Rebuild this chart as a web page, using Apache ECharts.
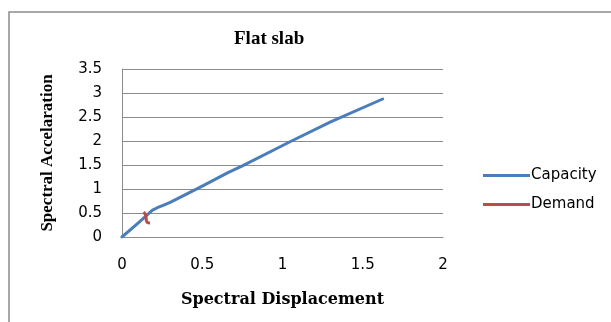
<!DOCTYPE html>
<html><head><meta charset="utf-8">
<script src="https://cdn.jsdelivr.net/npm/echarts@6/dist/echarts.min.js"></script>
<style>html,body{margin:0;padding:0;background:#fff}#c{width:611px;height:322px}</style>
</head><body><div id="c"></div>
<script>
const capacityX = [0, 0.1, 0.19, 0.22, 0.26, 0.3, 0.5, 0.66, 0.75, 1.05, 1.3, 1.624];
const capacityY = [0, 0.29, 0.56, 0.61, 0.665, 0.72, 1.06, 1.34, 1.48, 1.99, 2.4, 2.875];
const demandX = [0.135, 0.145, 0.15, 0.152, 0.158, 0.175];
const demandY = [0.52, 0.47, 0.40, 0.34, 0.30, 0.29];
const xTicks = [0, 0.5, 1, 1.5, 2];
const yTicks = [0, 0.5, 1, 1.5, 2, 2.5, 3, 3.5];

const chart = echarts.init(document.getElementById('c'));
chart.setOption({
  animation: false,
  graphic: [{type:'rect', shape:{x:9,y:12,width:700,height:400}, style:{fill:'none', stroke:'#8c8c8c', lineWidth:1.5}, silent:true}],
  title: {text:'Flat slab', left:229, top:25,
    textStyle:{fontFamily:'Liberation Serif', fontWeight:'bold', fontSize:19, color:'#000'}},
  legend: {orient:'vertical', left:478, top:163, itemWidth:47, itemHeight:3, itemGap:14,
    icon:'rect', textStyle:{fontFamily:'DejaVu Sans', fontSize:15, color:'#000', padding:[0,0,0,-4]},
    data:['Capacity','Demand']},
  grid: {left:122, top:69, width:321, height:168},
  xAxis: {type:'value', min:0, max:2, interval:0.5,
    name:'Spectral Displacement', nameLocation:'middle', nameGap:55,
    nameTextStyle:{fontFamily:'DejaVu Serif', fontWeight:'bold', fontSize:16, color:'#000'},
    axisLine:{show:true, lineStyle:{color:'#8c8c8c'}}, axisTick:{show:false},
    axisLabel:{margin:21, fontFamily:'DejaVu Sans', fontSize:15, color:'#000',
      formatter:v=>String(v)}, splitLine:{show:false}},
  yAxis: {type:'value', min:0, max:3.5, interval:0.5,
    name:'Spectral Accelaration', nameLocation:'middle', nameGap:66,
    nameTextStyle:{fontFamily:'Liberation Serif', fontWeight:'bold', fontSize:17, color:'#000'},
    axisLine:{show:true, lineStyle:{color:'#8c8c8c'}}, axisTick:{show:false},
    axisLabel:{margin:20, fontFamily:'DejaVu Sans', fontSize:15, color:'#000',
      formatter:v=>String(v)},
    splitLine:{show:true, lineStyle:{color:'#8c8c8c'}}},
  series: [
    {name:'Capacity', type:'line', showSymbol:false, smooth:false, color:'#4a7ebb',
      lineStyle:{width:3, color:'#4a7ebb', cap:'round', join:'round'},
      data: capacityX.map((x,i)=>[x, capacityY[i]])},
    {name:'Demand', type:'line', showSymbol:false, smooth:0.3, color:'#be4b48',
      lineStyle:{width:3, color:'#be4b48'},
      data: demandX.map((x,i)=>[x, demandY[i]])}
  ]
});
</script></body></html>
